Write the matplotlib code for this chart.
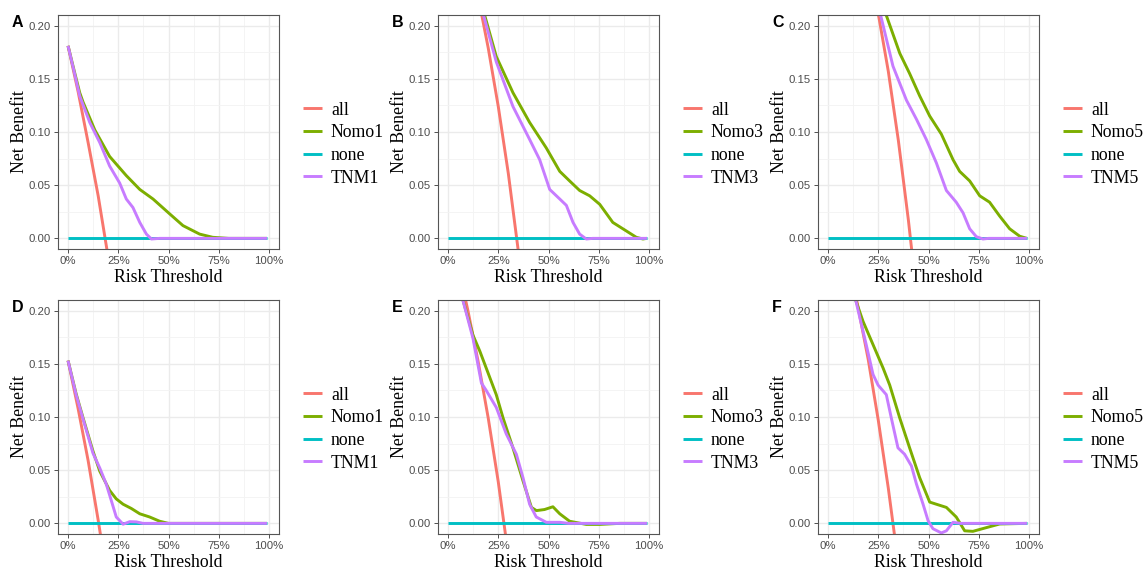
import matplotlib
matplotlib.use('Agg')
import matplotlib.pyplot as plt
from matplotlib.lines import Line2D

# ---- data (threshold, net benefit) ----
PANELS = ['A', 'B', 'C', 'D', 'E', 'F']
NOMO_NAMES = ['Nomo1', 'Nomo3', 'Nomo5', 'Nomo1', 'Nomo3', 'Nomo5']
TNM_NAMES = ['TNM1', 'TNM3', 'TNM5', 'TNM1', 'TNM3', 'TNM5']

NONE_T = [0, 0.99]
NONE_NB = [0, 0]

A_ALL_T = [0, 0.05, 0.10, 0.15, 0.20]
A_ALL_NB = [0.181, 0.138, 0.090, 0.040, -0.018]
A_NOMO_T = [0, 0.03, 0.058, 0.075, 0.133, 0.207, 0.29, 0.357, 0.423, 0.506, 0.572, 0.655, 0.72, 0.80, 0.99]
A_NOMO_NB = [0.181, 0.158, 0.137, 0.128, 0.102, 0.077, 0.059, 0.046, 0.037, 0.023, 0.012, 0.004, 0.001, 0, 0]
A_TNM_T = [0, 0.03, 0.058, 0.108, 0.158, 0.207, 0.257, 0.29, 0.323, 0.357, 0.39, 0.415, 0.456, 0.99]
A_TNM_NB = [0.181, 0.157, 0.134, 0.109, 0.090, 0.068, 0.052, 0.037, 0.029, 0.015, 0.004, -0.0006, 0, 0]

B_ALL_T = [0.15, 0.2, 0.25, 0.3, 0.36]
B_ALL_NB = [0.227, 0.179, 0.124, 0.061, -0.027]
B_NOMO_T = [0.17, 0.24, 0.323, 0.406, 0.489, 0.556, 0.605, 0.655, 0.705, 0.755, 0.82, 0.887, 0.937, 0.97, 0.99]
B_NOMO_NB = [0.218, 0.171, 0.137, 0.109, 0.085, 0.063, 0.054, 0.045, 0.040, 0.032, 0.015, 0.007, 0.001, -0.0006, 0]
B_TNM_T = [0.165, 0.24, 0.323, 0.406, 0.456, 0.506, 0.556, 0.589, 0.622, 0.655, 0.688, 0.72, 0.99]
B_TNM_NB = [0.218, 0.166, 0.124, 0.093, 0.074, 0.046, 0.037, 0.031, 0.015, 0.004, -0.0006, 0, 0]

C_ALL_T = [0.24, 0.3, 0.35, 0.4, 0.42]
C_ALL_NB = [0.222, 0.157, 0.092, 0.017, -0.017]
C_NOMO_T = [0.28, 0.357, 0.406, 0.456, 0.506, 0.564, 0.622, 0.655, 0.705, 0.755, 0.804, 0.854, 0.904, 0.954, 0.99]
C_NOMO_NB = [0.215, 0.174, 0.155, 0.134, 0.115, 0.098, 0.074, 0.063, 0.054, 0.040, 0.034, 0.021, 0.009, 0.002, 0]
C_TNM_T = [0.25, 0.323, 0.39, 0.44, 0.489, 0.539, 0.589, 0.638, 0.672, 0.705, 0.738, 0.771, 0.80, 0.99]
C_TNM_NB = [0.219, 0.162, 0.130, 0.112, 0.093, 0.071, 0.045, 0.034, 0.024, 0.009, 0.0016, -0.0006, 0, 0]

D_ALL_T = [0, 0.05, 0.1, 0.15, 0.17]
D_ALL_NB = [0.153, 0.108, 0.059, 0.003, -0.021]
D_NOMO_T = [0, 0.04, 0.075, 0.124, 0.158, 0.207, 0.24, 0.274, 0.315, 0.357, 0.406, 0.456, 0.5, 0.99]
D_NOMO_NB = [0.153, 0.122, 0.099, 0.068, 0.049, 0.031, 0.023, 0.018, 0.014, 0.009, 0.006, 0.002, 0, 0]
D_TNM_T = [0, 0.04, 0.075, 0.124, 0.158, 0.19, 0.216, 0.24, 0.274, 0.307, 0.34, 0.373, 0.99]
D_TNM_NB = [0.153, 0.121, 0.098, 0.066, 0.052, 0.037, 0.021, 0.006, -0.0008, 0.0016, 0.0014, 0, 0]

E_ALL_T = [0.07, 0.1, 0.15, 0.2, 0.25, 0.3]
E_ALL_NB = [0.225, 0.199, 0.152, 0.099, 0.039, -0.03]
E_NOMO_T = [0.068, 0.124, 0.158, 0.24, 0.274, 0.323, 0.373, 0.415, 0.44, 0.48, 0.522, 0.556, 0.605, 0.688, 0.755, 0.854, 0.99]
E_NOMO_NB = [0.214, 0.177, 0.162, 0.121, 0.099, 0.071, 0.040, 0.015, 0.012, 0.013, 0.0156, 0.009, 0.002, -0.001, -0.001, 0, 0]
E_TNM_T = [0.068, 0.124, 0.166, 0.19, 0.24, 0.29, 0.34, 0.373, 0.406, 0.439, 0.489, 0.556, 0.6, 0.99]
E_TNM_NB = [0.214, 0.174, 0.132, 0.125, 0.109, 0.084, 0.065, 0.043, 0.018, 0.006, 0.001, 0.001, 0, 0]

F_ALL_T = [0.13, 0.2, 0.25, 0.3, 0.335]
F_ALL_NB = [0.222, 0.154, 0.097, 0.033, -0.017]
F_NOMO_T = [0.13, 0.174, 0.224, 0.274, 0.307, 0.357, 0.406, 0.456, 0.506, 0.539, 0.589, 0.638, 0.68, 0.721, 0.788, 0.854, 0.99]
F_NOMO_NB = [0.214, 0.19, 0.168, 0.146, 0.130, 0.099, 0.071, 0.043, 0.020, 0.018, 0.015, 0.006, -0.007, -0.0075, -0.004, -0.0006, 0]
F_TNM_T = [0.13, 0.19, 0.224, 0.249, 0.29, 0.315, 0.348, 0.381, 0.415, 0.44, 0.473, 0.498, 0.522, 0.564, 0.589, 0.622, 0.66, 0.99]
F_TNM_NB = [0.216, 0.168, 0.14, 0.13, 0.121, 0.099, 0.071, 0.065, 0.054, 0.037, 0.018, 0.0025, -0.005, -0.009, -0.007, 0.001, 0, 0]

X_TICKS = [0, 0.25, 0.5, 0.75, 1.0]
X_TICK_LABELS = ['0%', '25%', '50%', '75%', '100%']
Y_TICKS = [0, 0.05, 0.10, 0.15, 0.20]
Y_TICK_LABELS = ['0.00', '0.05', '0.10', '0.15', '0.20']

ALL_DATA = [(A_ALL_T, A_ALL_NB), (B_ALL_T, B_ALL_NB), (C_ALL_T, C_ALL_NB),
            (D_ALL_T, D_ALL_NB), (E_ALL_T, E_ALL_NB), (F_ALL_T, F_ALL_NB)]
NOMO_DATA = [(A_NOMO_T, A_NOMO_NB), (B_NOMO_T, B_NOMO_NB), (C_NOMO_T, C_NOMO_NB),
             (D_NOMO_T, D_NOMO_NB), (E_NOMO_T, E_NOMO_NB), (F_NOMO_T, F_NOMO_NB)]
TNM_DATA = [(A_TNM_T, A_TNM_NB), (B_TNM_T, B_TNM_NB), (C_TNM_T, C_TNM_NB),
            (D_TNM_T, D_TNM_NB), (E_TNM_T, E_TNM_NB), (F_TNM_T, F_TNM_NB)]

COL_ALL = '#F8766D'
COL_NOMO = '#7CAE00'
COL_NONE = '#00BFC4'
COL_TNM = '#C77CFF'

W, H = 1143, 571
fig = plt.figure(figsize=(W / 100, H / 100), dpi=100)

lefts = [58, 438, 818]
tops = [15, 300]
aw, ah = 221, 234
lw = 2.1

for i in range(6):
    r, c = divmod(i, 3)
    x0 = lefts[c]
    y0 = tops[r]
    ax = fig.add_axes([x0 / W, 1 - (y0 + ah) / H, aw / W, ah / H])

    ax.set_xlim(-0.05, 1.05)
    ax.set_ylim(-0.01, 0.21)
    ax.set_xticks(X_TICKS)
    ax.set_xticklabels(X_TICK_LABELS)
    ax.set_yticks(Y_TICKS)
    ax.set_yticklabels(Y_TICK_LABELS)
    ax.set_xticks([0.125, 0.375, 0.625, 0.875], minor=True)
    ax.set_yticks([0.025, 0.075, 0.125, 0.175], minor=True)
    ax.grid(which='major', color='#EBEBEB', lw=1.0)
    ax.grid(which='minor', color='#F3F3F3', lw=0.6)
    ax.set_axisbelow(True)
    ax.tick_params(which='minor', length=0)
    ax.tick_params(which='major', length=2.8, width=0.6, color='#333333',
                   labelsize=8.2, labelcolor='#4D4D4D', pad=2.5)
    for lab in ax.get_xticklabels() + ax.get_yticklabels():
        lab.set_family('Liberation Sans')
    for sp in ax.spines.values():
        sp.set_color('#555555')
        sp.set_linewidth(0.8)

    t, nb = ALL_DATA[i]
    ax.plot(t, nb, color=COL_ALL, lw=lw, solid_capstyle='butt')
    t, nb = NOMO_DATA[i]
    ax.plot(t, nb, color=COL_NOMO, lw=lw, solid_capstyle='butt')
    ax.plot(NONE_T, NONE_NB, color=COL_NONE, lw=lw, solid_capstyle='butt')
    t, nb = TNM_DATA[i]
    ax.plot(t, nb, color=COL_TNM, lw=lw, solid_capstyle='butt')

    ax.set_xlabel('Risk Threshold', family='Liberation Serif', fontsize=12.8)
    ax.set_ylabel('Net Benefit', family='Liberation Serif', fontsize=12.8)
    ax.xaxis.set_label_coords(0.5, -0.085)
    ax.xaxis.label.set_va('top')
    ax.yaxis.set_label_coords(-0.136, 0.5)

    handles = [Line2D([], [], color=COL_ALL, lw=lw, solid_capstyle='butt'),
               Line2D([], [], color=COL_NOMO, lw=lw, solid_capstyle='butt'),
               Line2D([], [], color=COL_NONE, lw=lw, solid_capstyle='butt'),
               Line2D([], [], color=COL_TNM, lw=lw, solid_capstyle='butt')]
    labels = ['all', NOMO_NAMES[i], 'none', TNM_NAMES[i]]
    ax.legend(handles, labels, loc='center left', bbox_to_anchor=(1 + 24 / aw, 0.448),
              frameon=False, borderpad=0, borderaxespad=0, handlelength=1.07,
              handletextpad=0.5, labelspacing=0.32,
              prop={'family': 'Liberation Serif', 'size': 12.8})

    fig.text((x0 - 46) / W, 1 - (y0 + 12) / H, PANELS[i], family='Liberation Sans',
             fontweight='bold', fontsize=11.5, va='baseline', ha='left')

fig.savefig('out.png', dpi=100, facecolor='white')
